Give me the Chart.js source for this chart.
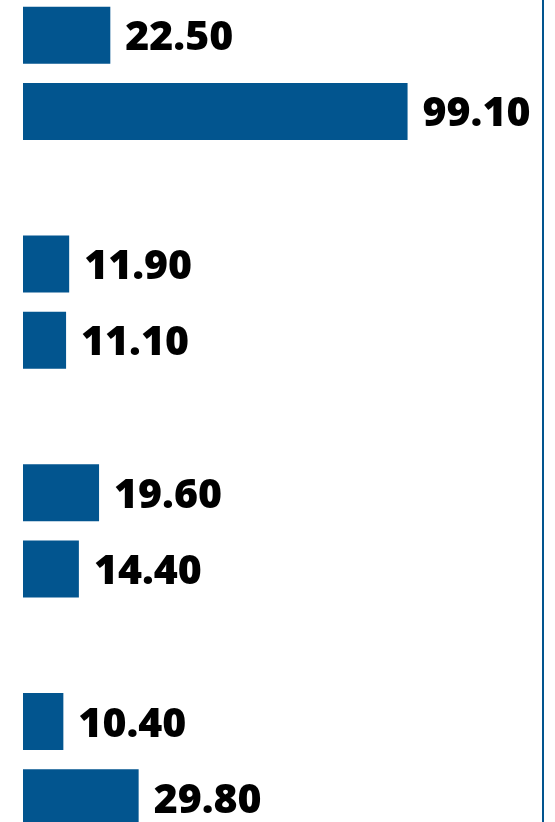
<!DOCTYPE html>
<html>
<head>
<meta charset="utf-8">
<script src="https://cdn.jsdelivr.net/npm/chart.js@4/dist/chart.umd.min.js"></script>
<style>
  html, body { margin: 0; padding: 0; background: #ffffff; overflow: hidden; width: 555px; height: 822px; }
  #wrap { position: absolute; left: 0; top: -41px; width: 555px; height: 915px; }
</style>
</head>
<body>
<div id="wrap"><canvas id="c"></canvas></div>
<script>
const categories = ["Group 1", "Group 2", "Group 3", "Group 4"];
const seriesA = [22.50, 11.90, 19.60, 10.40];
const seriesB = [99.10, 11.10, 14.40, 29.80];
const axisMax = 134;
const barColor = "#02558F";

const labelPlugin = {
  id: "valueLabels",
  afterDatasetsDraw(chart) {
    const ctx = chart.ctx;
    ctx.save();
    ctx.font = "800 41px 'Open Sans'";
    ctx.fillStyle = "#000000";
    ctx.textAlign = "left";
    ctx.textBaseline = "alphabetic";
    chart.data.datasets.forEach((ds, di) => {
      const meta = chart.getDatasetMeta(di);
      meta.data.forEach((bar, i) => {
        const v = ds.data[i];
        ctx.fillText(v.toFixed(2), bar.x + 15, bar.y + 15);
      });
    });
    ctx.restore();
  }
};

new Chart(document.getElementById("c"), {
  type: "bar",
  data: {
    labels: categories,
    datasets: [
      { label: "A", data: seriesA, backgroundColor: barColor, borderWidth: 0, categoryPercentage: 0.665, barPercentage: 0.75 },
      { label: "B", data: seriesB, backgroundColor: barColor, borderWidth: 0, categoryPercentage: 0.665, barPercentage: 0.75 }
    ]
  },
  options: {
    indexAxis: "y",
    responsive: true,
    maintainAspectRatio: false,
    animation: false,
    layout: { padding: { left: 23, right: 12, top: 0, bottom: 0 } },
    plugins: { legend: { display: false }, tooltip: { enabled: false } },
    scales: {
      x: { display: false, min: 0, max: axisMax },
      y: {
        position: "right",
        grid: { display: false },
        ticks: { display: false },
        border: { display: true, color: barColor, width: 2 },
        afterFit(scale) { scale.width = 0; }
      }
    }
  },
  plugins: [labelPlugin]
});
</script>
</body>
</html>
